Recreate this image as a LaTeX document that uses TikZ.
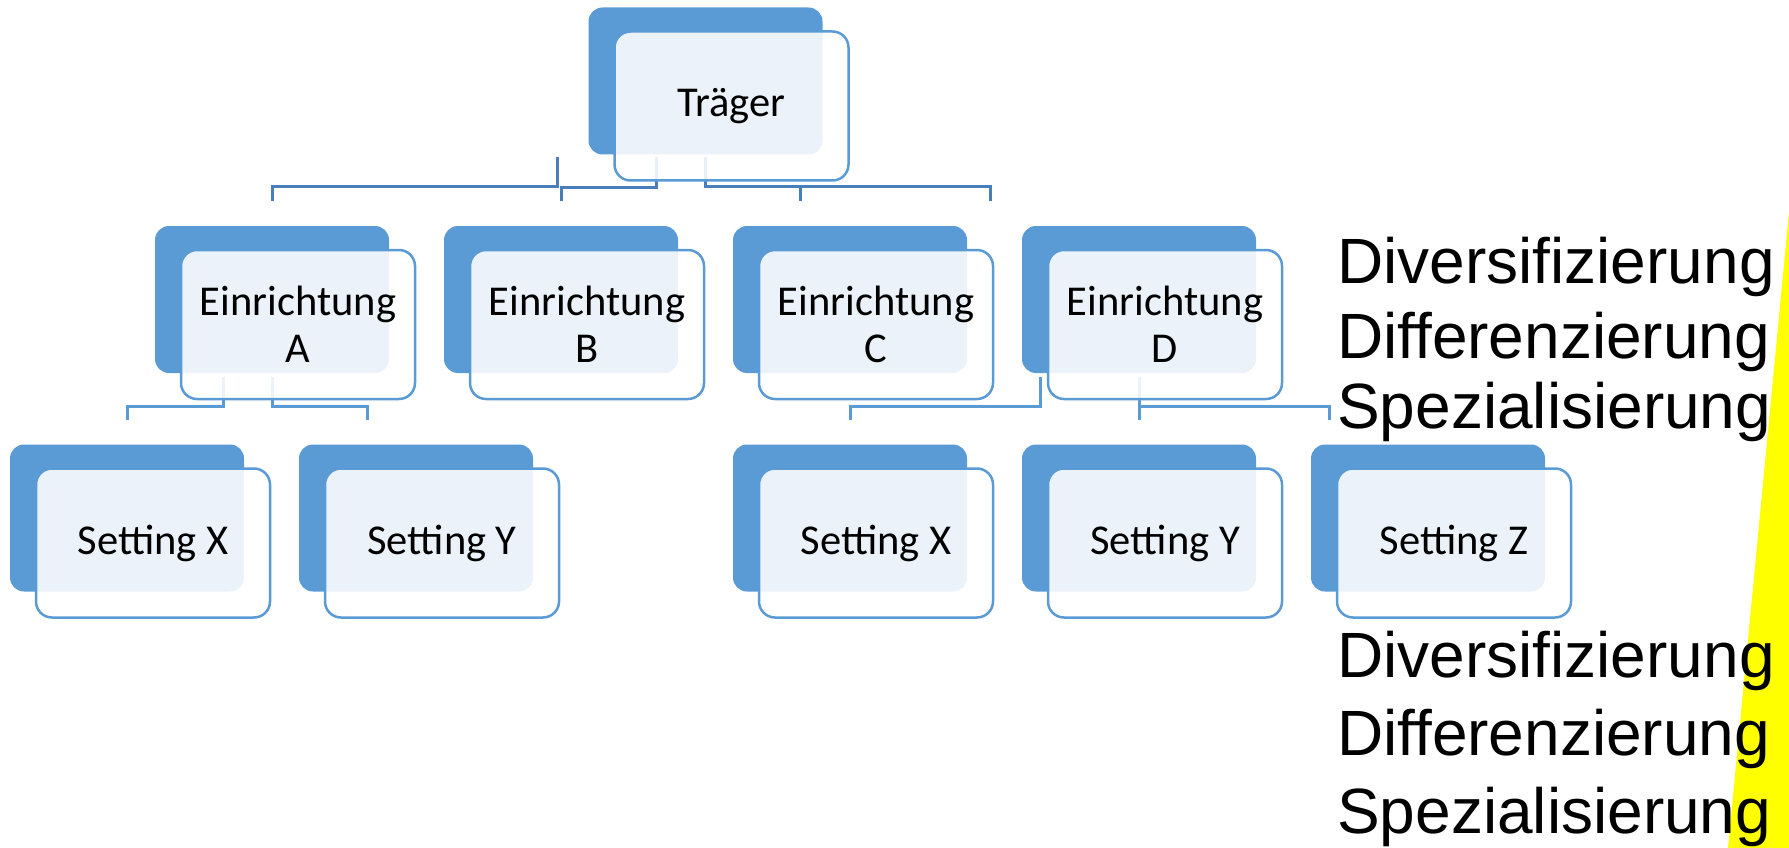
\documentclass[tikz,border=0pt]{standalone}
\usepackage{fontspec}
\setmainfont{Carlito}
\newfontfamily\arialfont{Liberation Sans}
\usetikzlibrary{calc}
\definecolor{accent}{HTML}{5B9BD5}
\definecolor{conn}{HTML}{4A7EBB}
\definecolor{connb}{HTML}{5B9BD5}
\definecolor{hl}{HTML}{FFFF00}
\begin{document}
\begin{tikzpicture}[x=1pt,y=-1pt,
 backbox/.style={rectangle, rounded corners=14pt, fill=accent, minimum width=234pt, minimum height=147pt, inner sep=0pt},
 frontbox/.style={rectangle, rounded corners=16pt, draw=accent, line width=2.5pt, fill=white, fill opacity=0.88, text opacity=1, minimum width=234pt, minimum height=149pt, inner sep=0pt, align=center, font=\fontsize{42.5}{47}\selectfont},
 toplink/.style={draw=conn, line width=3pt},
 sublink/.style={draw=connb, line width=3pt},
 sidetext/.style={anchor=base west, inner sep=0pt, font=\arialfont\fontsize{64}{74}\selectfont}]
\useasboundingbox (0,0) rectangle (1789,848);
% yellow band
\fill[hl] (1789,212) -- (1728,848) -- (1789,848) -- cycle;
% back boxes
\node[backbox] (tB) at (705.5,81) {};
\node[backbox] (aB) at (272,299.5) {};
\node[backbox] (bB) at (561,299.5) {};
\node[backbox] (cB) at (850,299.5) {};
\node[backbox] (dB) at (1139,299.5) {};
\node[backbox] (s1B) at (127,518) {};
\node[backbox] (s2B) at (416,518) {};
\node[backbox] (s3B) at (850,518) {};
\node[backbox] (s4B) at (1139,518) {};
\node[backbox] (s5B) at (1428,518) {};
% connectors level 1
\draw[toplink] ($(tB.south)+(-148.5,2)$) |- ($(aB.north)+(0,-39)$) -- ($(aB.north)+(0,-25)$);
\draw[toplink] ($(tB.south)+(-49.5,2)$) |- ($(bB.north)+(0,-38)$) -- ($(bB.north)+(0,-25)$);
\draw[toplink] ($(tB.south)+(0,2)$) |- ($(dB.north)+(-149,-39)$) -- ($(dB.north)+(-149,-25)$);
\draw[toplink] ($(cB.north)+(-50,-39)$) -- ($(cB.north)+(-50,-25)$);
% connectors level 2
\draw[sublink] ($(aB.south)+(-49,4)$) |- ($(s1B.north)+(0,-38)$) -- ($(s1B.north)+(0,-24.5)$);
\draw[sublink] ($(aB.south)+(0,4)$) |- ($(s2B.north)+(-49,-38)$) -- ($(s2B.north)+(-49,-24.5)$);
\draw[sublink] ($(dB.south)+(-99,4)$) |- ($(s3B.north)+(0,-38)$) -- ($(s3B.north)+(0,-24.5)$);
\draw[sublink] ($(dB.south)+(0,4)$) -- ($(s4B.north)+(0,-24.5)$);
\draw[sublink] ($(s4B.north)+(0,-38)$) -| ($(s5B.north)+(-99,-24.5)$);
% front boxes
\node[frontbox] (tF) at (731.5,106) {Träger};
\node[frontbox] (aF) at (298,324.5) {Einrichtung\\A};
\node[frontbox] (bF) at (587,324.5) {Einrichtung\\B};
\node[frontbox] (cF) at (876,324.5) {Einrichtung\\C};
\node[frontbox] (dF) at (1165,324.5) {Einrichtung\\D};
\node[frontbox] (s1F) at (153,543) {Setting X};
\node[frontbox] (s2F) at (442,543) {Setting Y};
\node[frontbox] (s3F) at (876,543) {Setting X};
\node[frontbox] (s4F) at (1165,543) {Setting Y};
\node[frontbox] (s5F) at (1454,543) {Setting Z};
% side texts
\node[sidetext] (d1) at (1337,283) {Diversifizierung};
\node[sidetext] (d2) at (1337,358) {Differenzierung};
\node[sidetext] (d3) at (1337,428) {Spezialisierung};
\node[sidetext] (e1) at (1337,677) {Diversifizierung};
\node[sidetext] (e2) at (1337,755) {Differenzierung};
\node[sidetext] (e3) at (1337,833) {Spezialisierung};
\end{tikzpicture}
\end{document}
